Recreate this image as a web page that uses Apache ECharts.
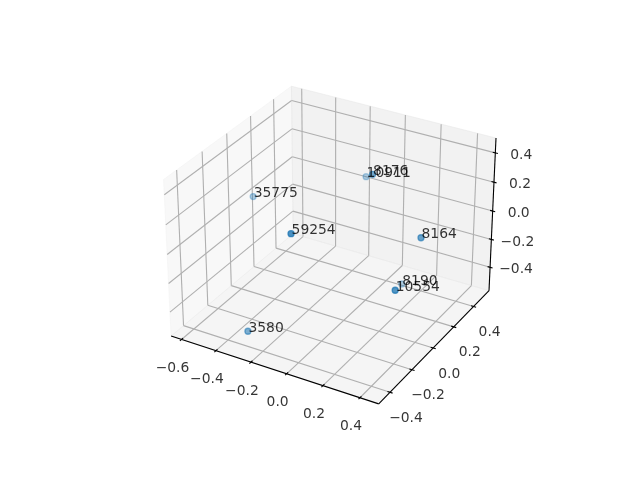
<!DOCTYPE html>
<html><head><meta charset="utf-8"><style>html,body{margin:0;background:#fff}#c{width:640px;height:480px}</style>
<script src="https://cdn.jsdelivr.net/npm/echarts@6/dist/echarts.min.js"></script></head><body><div id="c"></div>
<script>
const names=['3580','35775','59254','10911','8176','8164','8190','10554'];
const xValues=[-0.29,-0.629,-0.02,-0.177,0.076,0.383,0.116,0.43];
const yValues=[-0.391,0.161,-0.419,0.489,0.13,0.063,0.356,-0.249];
const zValues=[-0.471,-0.025,0.313,0.059,0.383,0.105,-0.52,-0.015];
const xLim=[-0.661,0.5],yLim=[-0.5,0.56],zLim=[-0.57,0.5];
const xTicks=[-0.6,-0.4,-0.2,0,0.2,0.4],yTicks=[-0.4,-0.2,0,0.2,0.4],zTicks=[-0.4,-0.2,0,0.2,0.4];
const e=30*Math.PI/180,a=-60*Math.PI/180,k=1.8294640721620434*25/24/Math.sqrt(41),box=[4*k,4*k,3*k];
const w=[Math.cos(e)*Math.cos(a),Math.cos(e)*Math.sin(a),Math.sin(e)];
const n=Math.hypot(w[0],w[1]);const u=[-w[1]/n,w[0]/n,0];
const v=[w[1]*u[2]-w[2]*u[1],w[2]*u[0]-w[0]*u[2],w[0]*u[1]-w[1]*u[0]];
const dot=(p,q)=>p[0]*q[0]+p[1]*q[1]+p[2]*q[2];
function boxed(x,y,z){return [(x-xLim[0])/(xLim[1]-xLim[0])*box[0]-box[0]/2,(y-yLim[0])/(yLim[1]-yLim[0])*box[1]-box[1]/2,(z-zLim[0])/(zLim[1]-zLim[0])*box[2]-box[2]/2];}
function proj(x,y,z){const q=boxed(x,y,z);
 const W=10-dot(w,q);return [143.2+(dot(u,q)/W+0.095)*369.6/0.185,427.2-(dot(v,q)/W+0.095)*369.6/0.185];}
const segs=[];const G='#b0b0b0';
function path(list,c,wd){for(let i=0;i<list.length-1;i++){const A=proj(...list[i]),B=proj(...list[i+1]);segs.push({value:[A[0],A[1],B[0],B[1]],c,wd});}}
const [x0,x1]=xLim,[y0,y1]=yLim,[z0,z1]=zLim;
xTicks.forEach(t=>path([[t,y0,z0],[t,y1,z0],[t,y1,z1]],G,1.1));
yTicks.forEach(t=>path([[x1,t,z0],[x0,t,z0],[x0,t,z1]],G,1.1));
zTicks.forEach(t=>path([[x0,y0,t],[x0,y1,t],[x1,y1,t]],G,1.1));
path([[x0,y0,z0],[x1,y0,z0]],'#000',1.1);path([[x1,y0,z0],[x1,y1,z0]],'#000',1.1);path([[x1,y1,z0],[x1,y1,z1]],'#000',1.1);
const dx=(x1-x0)/100,dy=(y1-y0)/100;
xTicks.forEach(t=>path([[t,y0+1.2*dy,z0],[t,y0-1.2*dy,z0]],'#000',1.1));
yTicks.forEach(t=>path([[x1-1.2*dx,t,z0],[x1+1.2*dx,t,z0]],'#000',1.1));
zTicks.forEach(t=>path([[x1-1.2*dx,y1,t],[x1+1.2*dx,y1,t]],'#000',1.1));
const panes=[[[x0,y0,z0],[x0,y1,z0],[x0,y1,z1],[x0,y0,z1]],[[x0,y1,z0],[x1,y1,z0],[x1,y1,z1],[x0,y1,z1]],[[x0,y0,z0],[x1,y0,z0],[x1,y1,z0],[x0,y1,z0]]].map(p=>p.map(c=>proj(...c)));
const paneC=['rgba(242,242,242,.5)','rgba(230,230,230,.5)','rgba(236,236,236,.5)'];
const fmt=t=>(t<0?'\u2212':'')+Math.abs(t).toFixed(1);
const tl=[];
xTicks.forEach(t=>{const p=proj(t,y0,z0);tl.push({value:[p[0]-9,p[1]+29],t:fmt(t)})});
yTicks.forEach(t=>{const p=proj(x1,t,z0);tl.push({value:[p[0]+16,p[1]+26],t:fmt(t)})});
zTicks.forEach(t=>{const p=proj(x1,y1,t);tl.push({value:[p[0]+26,p[1]+2.5],t:fmt(t)})});
const ds=names.map((_,i)=>dot(w,boxed(xValues[i],yValues[i],zValues[i])));const dmin=Math.min(...ds),dmax=Math.max(...ds);
const dotsD=names.map((nm,i)=>{const s=proj(xValues[i],yValues[i],zValues[i]),al=(0.42+0.58*(ds[i]-dmin)/(dmax-dmin)).toFixed(3);return {value:s,name:nm,d:ds[i],itemStyle:{color:`rgba(31,119,180,${al})`,borderColor:`rgba(31,119,180,${al})`}}}).sort((A,B)=>A.d-B.d);
const F='"DejaVu Sans"';
echarts.init(document.getElementById('c')).setOption({animation:false,grid:{left:0,right:0,top:0,bottom:0},
xAxis:{type:'value',min:0,max:640,show:false},yAxis:{type:'value',min:0,max:480,inverse:true,show:false},
series:[
{type:'custom',silent:true,z:1,data:panes.map((p,i)=>({value:[i]})),encode:{x:0,y:0},renderItem:(pr,api)=>{const i=api.value(0);return {type:'polygon',shape:{points:panes[i].map(c=>api.coord(c))},style:{fill:paneC[i],stroke:paneC[i]}}}},
{type:'custom',silent:true,z:2,data:segs.map((s,i)=>({value:[...s.value,i]})),encode:{x:0,y:1},renderItem:(pr,api)=>{const s=segs[api.value(4)],A=api.coord([s.value[0],s.value[1]]),B=api.coord([s.value[2],s.value[3]]);return {type:'line',shape:{x1:A[0],y1:A[1],x2:B[0],y2:B[1]},style:{stroke:s.c,lineWidth:s.wd}}}},
{type:'scatter',silent:true,z:3,symbolSize:6,itemStyle:{borderWidth:1.3},data:dotsD},
{type:'scatter',silent:true,z:4,symbolSize:0,data:dotsD.map(d=>({value:[d.value[0]+0.5,d.value[1]+1],name:d.name})),label:{show:true,formatter:'{b}',position:[0,3],align:'left',verticalAlign:'bottom',fontFamily:F,fontSize:13.89,color:'#000'}},
{type:'scatter',silent:true,z:4,symbolSize:0,data:tl.map(d=>({value:d.value,name:d.t})),label:{show:true,formatter:'{b}',position:[0,0],align:'center',verticalAlign:'middle',fontFamily:F,fontSize:13.89,color:'#000'}}
]});
</script></body></html>
